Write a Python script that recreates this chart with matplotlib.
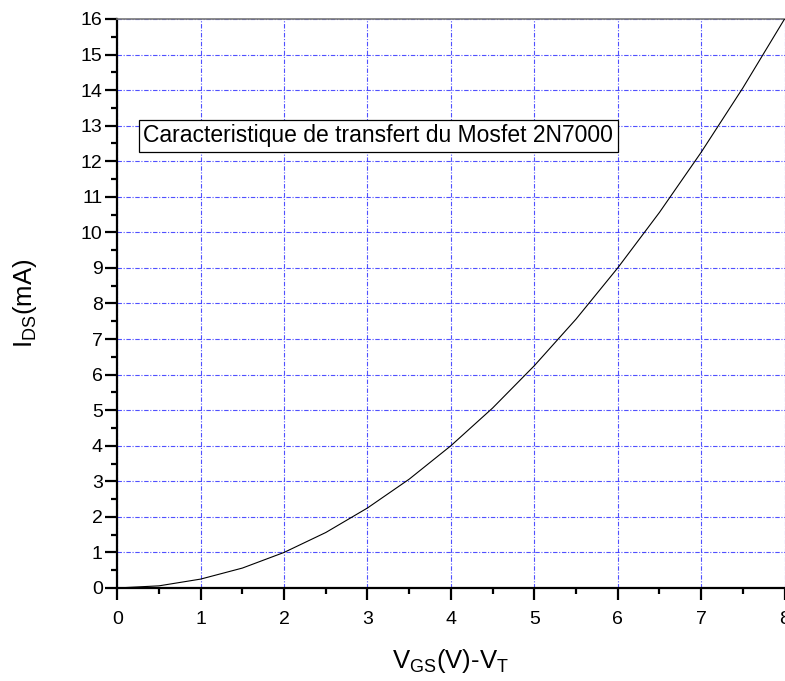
import numpy as np
from matplotlib import pyplot as plt
from matplotlib.ticker import MultipleLocator

plt.rcParams['font.family'] = ['Liberation Sans', 'DejaVu Sans']
plt.rcParams['mathtext.fontset'] = 'custom'
plt.rcParams['mathtext.rm'] = 'Liberation Sans'
plt.rcParams['mathtext.it'] = 'Liberation Sans'

# values (steps of 0.5 V)
vgs_minus_vt = [0, 0.5, 1, 1.5, 2, 2.5, 3, 3.5, 4, 4.5, 5, 5.5, 6, 6.5, 7, 7.5, 8]
ids_ma = [0, 0.06, 0.25, 0.56, 1.0, 1.56, 2.25, 3.06, 4.0, 5.06, 6.25, 7.56, 9.0, 10.56, 12.25, 14.06, 16.0]

x_ticks = [0, 1, 2, 3, 4, 5, 6, 7, 8]
y_ticks = list(range(0, 17))

title_text = "Caracteristique de transfert du Mosfet 2N7000"

fig = plt.figure(figsize=(7.85, 6.81), dpi=100)
ax = fig.add_axes([0.1494, 0.1366, 0.8500, 0.8355])

ax.plot(vgs_minus_vt, ids_ma, color='black', lw=0.8, zorder=3)

ax.set_xlim(0, 8)
ax.set_ylim(0, 16)
ax.set_xticks(x_ticks)
ax.set_yticks(y_ticks)
ax.xaxis.set_minor_locator(MultipleLocator(0.5))
ax.yaxis.set_minor_locator(MultipleLocator(0.5))

ax.grid(True, which='major', color='#3333ff', lw=0.8, dashes=(4, 1.5, 1, 1.5), alpha=0.85)
ax.set_axisbelow(True)

for side in ['left', 'bottom']:
  ax.spines[side].set_linewidth(1.6)
  ax.spines[side].set_color('black')
ax.spines['top'].set_color('#777777')
ax.spines['top'].set_linewidth(1.2)
ax.spines['right'].set_visible(False)

ax.tick_params(which='major', direction='out', length=8.5, width=1.6, labelsize=14)
ax.tick_params(which='minor', direction='out', length=4, width=1.6)
ax.tick_params(axis='x', which='major', pad=8)
ax.tick_params(axis='y', which='major', pad=2)
ax.tick_params(top=False, right=False)

ax.set_xlabel(r'$\mathregular{V_{GS}(V)\text{-}V_T}$', fontsize=18.5, labelpad=14)
ax.set_ylabel(r'$\mathregular{I_{DS}(mA)}$', fontsize=18.5, labelpad=30)

ax.text(0.31, 12.72, title_text, fontsize=16.5, va='center', ha='left',
        bbox=dict(boxstyle='square,pad=0.2', fc='white', ec='black', lw=0.9), zorder=4)

plt.savefig('out.png', dpi=100)
